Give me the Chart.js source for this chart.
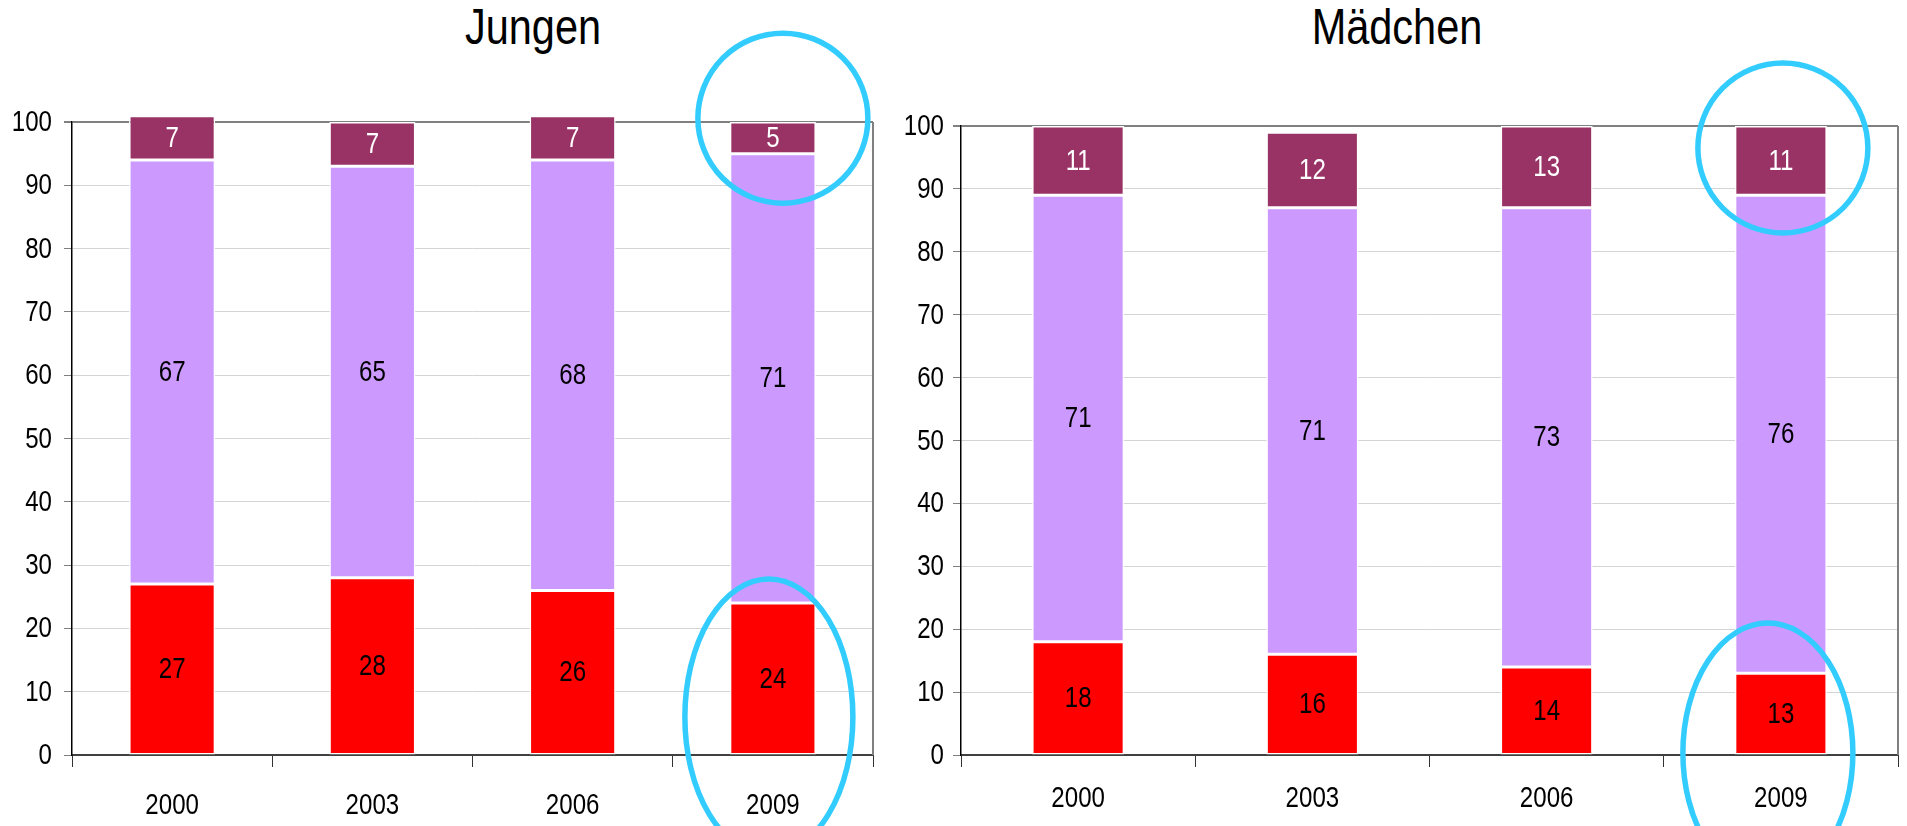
<!DOCTYPE html>
<html lang="de">
<head>
<meta charset="utf-8">
<title>Jungen / Mädchen</title>
<script src="https://cdn.jsdelivr.net/npm/chart.js@4.4.0/dist/chart.umd.min.js"></script>
<style>
    html, body { margin: 0; padding: 0; background: #fff; }
    body { width: 1907px; height: 826px; position: relative; overflow: hidden; }
    .box { position: absolute; top: 0; height: 826px; }
    .title {
        position: absolute; top: 0; height: 54px; line-height: 54px;
        font-family: 'Liberation Sans', Arial, sans-serif;
        font-size: 50px; color: #000; white-space: nowrap;
        transform: translateX(-50%) scaleX(0.83);
    }
</style>
</head>
<body>
<div class="title" style="left:533px">Jungen</div>
<div class="title" style="left:1397px">Mädchen</div>
<div class="box" style="left:0;width:900px"><canvas id="boys-chart"></canvas></div>
<div class="box" style="left:900px;width:1007px"><canvas id="girls-chart"></canvas></div>

<script>
// Data
const years = ['2000', '2003', '2006', '2009'];

const boysLow = [27, 28, 26, 24];
const boysMid = [67, 65, 68, 71];
const boysHigh = [7, 7, 7, 5];

const girlsLow = [18, 16, 14, 13];
const girlsMid = [71, 71, 73, 76];
const girlsHigh = [11, 12, 13, 11];

const yMin = 0;
const yMax = 100;
const yStep = 10;

const FONT = "'Liberation Sans', Arial, sans-serif";
const TEXT_SIZE = 29;
const SQUEEZE = 0.83;   // the original uses a narrow font
Chart.defaults.font.family = FONT;
Chart.defaults.color = '#000';

// draw text a bit condensed, like Arial Narrow
function narrowText(ctx, text, x, y) {
    ctx.save();
    ctx.translate(x, y);
    ctx.scale(SQUEEZE, 1);
    ctx.fillText(text, 0, 0);
    ctx.restore();
}

/**
 * Values written in the middle of each segment
 */
const segmentLabels = {
    id: 'segmentLabels',
    afterDatasetsDraw(chart) {
        const ctx = chart.ctx;
        ctx.save();
        ctx.font = TEXT_SIZE + 'px ' + FONT;
        ctx.textAlign = 'center';
        ctx.textBaseline = 'middle';
        chart.data.datasets.forEach((ds, i) => {
            const meta = chart.getDatasetMeta(i);
            ctx.fillStyle = ds.labelColor || '#000';
            meta.data.forEach((bar, j) => {
                const { x, y, base } = bar.getProps(['x', 'y', 'base'], true);
                narrowText(ctx, String(ds.data[j]), x, (y + base) / 2 + 1);
            });
        });
        ctx.restore();
    }
};

/**
 * Tick labels of both axes, drawn condensed
 */
const axisLabels = {
    id: 'axisLabels',
    afterDraw(chart, args, opts) {
        const ctx = chart.ctx;
        const xs = chart.scales.x;
        const ys = chart.scales.y;
        ctx.save();
        ctx.font = TEXT_SIZE + 'px ' + FONT;
        ctx.fillStyle = '#000';
        ctx.textBaseline = 'middle';

        ctx.textAlign = 'center';
        xs.ticks.forEach((t, i) => {
            narrowText(ctx, xs.getLabelForValue(t.value), xs.getPixelForTick(i), chart.chartArea.bottom + opts.xOffset);
        });

        ctx.textAlign = 'right';
        ys.ticks.forEach((t, i) => {
            narrowText(ctx, String(t.value), chart.chartArea.left - opts.yGap, ys.getPixelForTick(i) + 1);
        });
        ctx.restore();
    }
};

/**
 * Right border of the plot area
 */
const plotFrame = {
    id: 'plotFrame',
    beforeDatasetsDraw(chart) {
        const { ctx, chartArea } = chart;
        ctx.save();
        ctx.strokeStyle = '#808080';
        ctx.lineWidth = 2;
        ctx.beginPath();
        ctx.moveTo(chartArea.right, chartArea.top);
        ctx.lineTo(chartArea.right, chartArea.bottom);
        ctx.stroke();
        ctx.restore();
    }
};

/**
 * Blue highlight rings around the 2009 bar
 */
const highlightRings = {
    id: 'highlightRings',
    afterDraw(chart, args, opts) {
        const rings = opts.rings || [];
        const ctx = chart.ctx;
        const xs = chart.scales.x;
        const ys = chart.scales.y;
        ctx.save();
        ctx.strokeStyle = '#33CCFF';
        ctx.lineWidth = 5.5;
        rings.forEach(r => {
            const cx = xs.getPixelForValue(r.index) + r.dx;
            const cy = ys.getPixelForValue(r.value);
            ctx.beginPath();
            ctx.ellipse(cx, cy, r.rx, r.ry, 0, 0, Math.PI * 2);
            ctx.stroke();
        });
        ctx.restore();
    }
};

function makeChart(canvasId, low, mid, high, cfg) {
    const el = document.getElementById(canvasId);
    const common = {
        stack: 's',
        clip: false,            // sums of 101 stick out above the 100 line
        borderColor: '#ffffff',
        borderWidth: 1.5,
        borderSkipped: false,
        categoryPercentage: 1,
        barPercentage: cfg.barPct
    };
    return new Chart(el, {
        type: 'bar',
        data: {
            labels: years,
            datasets: [
                { ...common, label: 'niedrig', data: low, backgroundColor: '#FF0000', labelColor: '#000' },
                { ...common, label: 'mittel', data: mid, backgroundColor: '#CC99FF', labelColor: '#000' },
                { ...common, label: 'hoch', data: high, backgroundColor: '#993366', labelColor: '#fff' }
            ]
        },
        options: {
            responsive: true,
            maintainAspectRatio: false,
            animation: false,
            layout: {
                padding: { top: cfg.padTop, right: cfg.padRight, left: 0, bottom: 0 }
            },
            plugins: {
                legend: { display: false },
                tooltip: { enabled: false },
                highlightRings: { rings: cfg.rings },
                axisLabels: { xOffset: cfg.xOffset, yGap: cfg.yGap }
            },
            scales: {
                x: {
                    stacked: true,
                    afterFit: (s) => { s.height = 71; },
                    grid: {
                        display: true,
                        offset: true,
                        drawOnChartArea: false,
                        drawTicks: true,
                        tickLength: 12,
                        color: '#333'
                    },
                    border: { display: true, color: '#404040', width: 2 },
                    ticks: { display: false }
                },
                y: {
                    stacked: true,
                    min: yMin,
                    max: yMax,
                    afterFit: (s) => { s.width = cfg.yWidth; },
                    grid: {
                        color: (c) => (c.tick && c.tick.value === yMax ? '#808080' : '#d4d4d4'),
                        lineWidth: (c) => (c.tick && c.tick.value === yMax ? 2 : 1),
                        tickColor: '#808080',
                        tickLength: 8
                    },
                    border: { display: true, color: '#000', width: 1.5 },
                    ticks: { stepSize: yStep, display: false }
                }
            }
        },
        plugins: [plotFrame, segmentLabels, axisLabels, highlightRings]
    });
}

document.addEventListener('DOMContentLoaded', () => {
    makeChart('boys-chart', boysLow, boysMid, boysHigh, {
        barPct: 0.43,
        padTop: 122,
        padRight: 27,
        yWidth: 72,
        yGap: 20,
        xOffset: 51,
        rings: [
            { index: 3, value: 100.6, dx: 10, rx: 85, ry: 85 },
            { index: 3, value: 6, dx: -4, rx: 84, ry: 138 }
        ]
    });

    makeChart('girls-chart', girlsLow, girlsMid, girlsHigh, {
        barPct: 0.393,
        padTop: 126,
        padRight: 9,
        yWidth: 61,
        yGap: 17,
        xOffset: 44,
        rings: [
            { index: 3, value: 96.5, dx: 2, rx: 85, ry: 85 },
            { index: 3, value: 0.3, dx: -13, rx: 85, ry: 130 }
        ]
    });
});
</script>
</body>
</html>
